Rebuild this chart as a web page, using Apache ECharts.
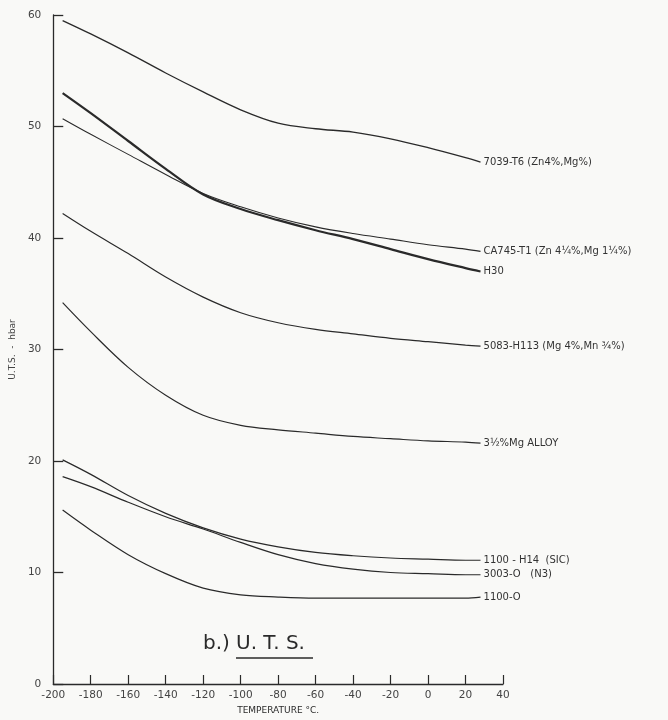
<!DOCTYPE html>
<html>
<head>
<meta charset="utf-8">
<script src="https://cdn.jsdelivr.net/npm/echarts@6/dist/echarts.min.js"></script>
<style>
html,body{margin:0;padding:0;background:#f9f9f7;}
#c{width:668px;height:720px;}
</style>
</head>
<body>
<div id="c"></div>
<script>
const temps = [-195, -180, -160, -140, -120, -100, -80, -60, -40, -20, 0, 20, 28];
const xTicks = [-200, -180, -160, -140, -120, -100, -80, -60, -40, -20, 0, 20, 40];
const yTicks = [0, 10, 20, 30, 40, 50, 60];

const names = [
  "7039-T6 (Zn4%,Mg%)",
  "H30",
  "CA745-T1 (Zn 4¼%,Mg 1¼%)",
  "5083-H113 (Mg 4%,Mn ¾%)",
  "3½%Mg ALLOY",
  "1100 - H14  (SIC)",
  "3003-O   (N3)",
  "1100-O"
];
const s7039 = [59.5, 58.3, 56.6, 54.8, 53.1, 51.5, 50.3, 49.8, 49.5, 48.9, 48.1, 47.2, 46.8];
const sH30  = [53.0, 51.2, 48.7, 46.2, 43.9, 42.6, 41.6, 40.7, 39.9, 39.0, 38.1, 37.3, 37.0];
const sCA745= [50.7, 49.3, 47.5, 45.7, 44.0, 42.8, 41.8, 41.0, 40.4, 39.9, 39.4, 39.0, 38.8];
const s5083 = [42.2, 40.6, 38.6, 36.5, 34.7, 33.3, 32.4, 31.8, 31.4, 31.0, 30.7, 30.4, 30.3];
const sMg35 = [34.2, 31.6, 28.4, 25.9, 24.1, 23.2, 22.8, 22.5, 22.2, 22.0, 21.8, 21.7, 21.6];
const sH14  = [20.1, 18.8, 16.9, 15.3, 14.0, 13.0, 12.3, 11.8, 11.5, 11.3, 11.2, 11.1, 11.1];
const s3003 = [18.6, 17.7, 16.3, 15.0, 13.9, 12.7, 11.6, 10.8, 10.3, 10.0, 9.9, 9.8, 9.8];
const s1100 = [15.6, 13.8, 11.6, 9.9, 8.6, 8.0, 7.8, 7.7, 7.7, 7.7, 7.7, 7.7, 7.8];
const allSeries = [s7039, sH30, sCA745, s5083, sMg35, sH14, s3003, s1100];
const widths = [1.3, 2.2, 1.1, 1.2, 1.2, 1.2, 1.2, 1.2];

const ink = '#2a2a2a';
const chart = echarts.init(document.getElementById('c'), null, {renderer:'canvas'});
chart.setOption({
  backgroundColor: '#f9f9f7',
  animation: false,
  grid: {left: 52, right: 165, top: 15, bottom: 33, containLabel: false},
  xAxis: {
    type: 'value', min: -200, max: 40, interval: 20,
    name: 'TEMPERATURE °C.', nameLocation: 'middle', nameGap: 22,
    nameTextStyle: {color: ink, fontSize: 9, fontFamily: 'DejaVu Sans'},
    axisLine: {show: true, onZero: false, lineStyle: {color: ink, width: 1.3}},
    axisTick: {show: true, inside: true, length: 9, lineStyle: {color: ink, width: 1.2}},
    axisLabel: {color: '#444', fontSize: 10.5, fontFamily: 'DejaVu Sans', margin: 6,
      formatter: v => xTicks.includes(v) ? String(v) : ''},
    splitLine: {show: false}
  },
  yAxis: {
    type: 'value', min: 0, max: 60, interval: 10,
    name: 'U.T.S.  -  hbar', nameLocation: 'middle', nameGap: 34, nameRotate: 90,
    nameTextStyle: {color: '#444', fontSize: 9, fontFamily: 'DejaVu Sans'},
    axisLine: {show: true, onZero: false, lineStyle: {color: ink, width: 1.3}},
    axisTick: {show: true, inside: true, length: 10, lineStyle: {color: ink, width: 1.3}},
    axisLabel: {color: '#444', fontSize: 10.5, fontFamily: 'DejaVu Sans', margin: 12,
      formatter: v => yTicks.includes(v) ? String(v) : ''},
    splitLine: {show: false}
  },
  graphic: [
    {type: 'text', left: 203, top: 634, style: {text: 'b.)', fontSize: 20, fontFamily: 'DejaVu Sans', fill: ink}},
    {type: 'text', left: 236, top: 634, style: {text: 'U. T. S.', fontSize: 20, fontFamily: 'DejaVu Sans', fill: ink}},
    {type: 'line', shape: {x1: 236, y1: 658, x2: 313, y2: 658}, style: {stroke: ink, lineWidth: 1.5}}
  ],
  series: allSeries.map((vals, i) => ({
    type: 'line', name: names[i], smooth: 0.35, symbol: 'none',
    lineStyle: {color: ink, width: widths[i]},
    data: temps.map((t, j) => [t, vals[j]]),
    endLabel: {show: true, formatter: names[i], distance: 3, color: '#333',
      fontSize: 10, fontFamily: 'DejaVu Sans'}
  }))
});
</script>
</body>
</html>
